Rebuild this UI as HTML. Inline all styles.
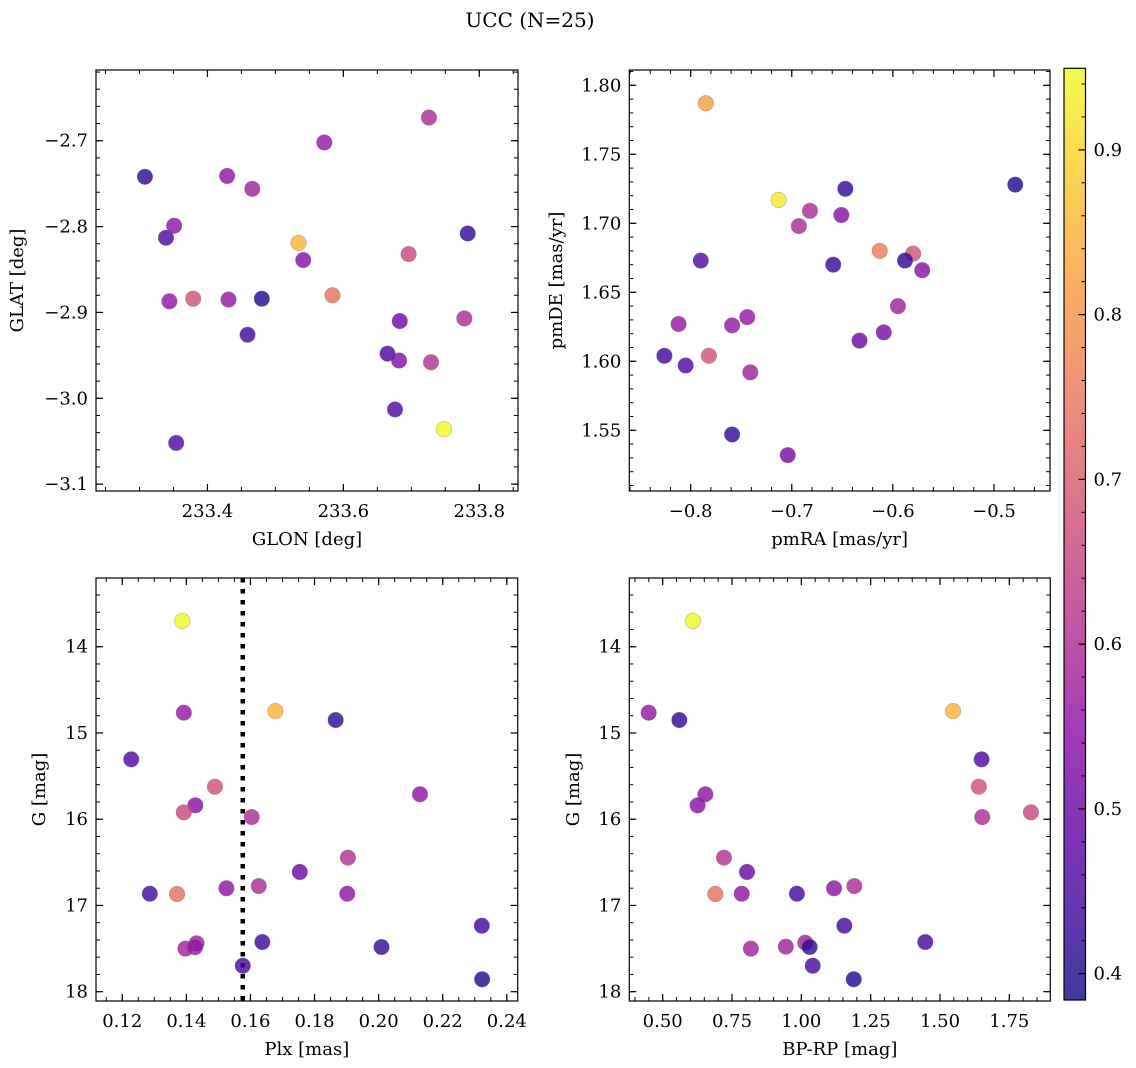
<!DOCTYPE html>
<html><head><meta charset="utf-8">
<style>
html,body{margin:0;padding:0;background:#fff;}
svg{display:block;font-family:"DejaVu Serif","Liberation Serif",serif;}
</style></head>
<body>
<svg id="fig" width="1136" height="1068" viewBox="0 0 1136 1068" xmlns="http://www.w3.org/2000/svg">
<text x="530" y="27" font-size="20" text-anchor="middle">UCC (N=25)</text>
</svg>
<script>
// ---- Panel 1: GLON vs GLAT ----
const glonVals = [233.308,233.339,233.351,233.344,233.379,233.431,233.429,233.466,233.480,233.459,233.354,233.534,233.541,233.572,233.584,233.696,233.726,233.783,233.778,233.683,233.665,233.682,233.729,233.676,233.748];
const glatVals = [-2.742,-2.813,-2.799,-2.887,-2.884,-2.885,-2.741,-2.756,-2.884,-2.926,-3.052,-2.819,-2.839,-2.702,-2.880,-2.832,-2.673,-2.808,-2.907,-2.910,-2.948,-2.956,-2.958,-3.013,-3.036];
const probP1 = [0.42,0.45,0.55,0.55,0.68,0.56,0.55,0.58,0.40,0.44,0.46,0.85,0.54,0.56,0.74,0.66,0.60,0.42,0.60,0.50,0.45,0.53,0.61,0.46,0.95];
// ---- Panel 2: pmRA vs pmDE ----
const pmraVals = [-0.785,-0.713,-0.647,-0.479,-0.682,-0.651,-0.693,-0.613,-0.580,-0.588,-0.571,-0.790,-0.659,-0.595,-0.812,-0.759,-0.744,-0.609,-0.633,-0.826,-0.782,-0.805,-0.741,-0.759,-0.704];
const pmdeVals = [1.787,1.717,1.725,1.728,1.709,1.706,1.698,1.680,1.678,1.673,1.666,1.673,1.670,1.640,1.627,1.626,1.632,1.621,1.615,1.604,1.604,1.597,1.592,1.547,1.532];
const probP2 = [0.82,0.93,0.42,0.40,0.60,0.54,0.60,0.76,0.68,0.42,0.54,0.46,0.43,0.58,0.56,0.56,0.56,0.52,0.50,0.44,0.68,0.46,0.58,0.42,0.52];
// ---- Panel 3: Plx vs G ----
const plxVals = [0.1387,0.1392,0.1678,0.1866,0.1228,0.1489,0.2129,0.1428,0.1392,0.1604,0.1904,0.1754,0.1525,0.1626,0.1286,0.1371,0.1902,0.2322,0.1637,0.1432,0.1427,0.1397,0.2009,0.1576,0.2323];
const gmagP3 = [13.702,14.765,14.746,14.850,15.306,15.623,15.711,15.839,15.920,15.975,16.446,16.612,16.801,16.775,16.864,16.867,16.864,17.235,17.424,17.439,17.485,17.501,17.482,17.699,17.856];
const probP3 = [0.95,0.56,0.85,0.42,0.46,0.68,0.55,0.54,0.66,0.60,0.61,0.50,0.55,0.60,0.44,0.74,0.55,0.44,0.44,0.58,0.56,0.58,0.42,0.45,0.40];
const plxLine = [0.1576];
// ---- Panel 4: BP-RP vs G ----
const bprpVals = [0.609,0.4495,0.560,1.547,1.650,1.640,1.828,1.6525,0.654,0.626,0.721,0.804,0.690,0.785,0.984,1.118,1.191,1.155,1.447,0.818,0.944,1.014,1.030,1.041,1.189];
const gmagP4 = [13.702,14.765,14.850,14.746,15.306,15.623,15.920,15.975,15.711,15.839,16.446,16.612,16.867,16.864,16.864,16.801,16.775,17.235,17.424,17.501,17.478,17.432,17.482,17.699,17.856];
const probP4 = [0.95,0.56,0.42,0.85,0.46,0.68,0.66,0.60,0.55,0.54,0.61,0.50,0.74,0.55,0.44,0.55,0.60,0.44,0.44,0.58,0.58,0.58,0.42,0.45,0.40];
// ---- tick labels ----
const p1XTicks = [233.4,233.6,233.8];
const p1XTickLabels = ["233.4","233.6","233.8"];
const p1YTicks = [-2.7,-2.8,-2.9,-3.0,-3.1];
const p1YTickLabels = ["\u22122.7","\u22122.8","\u22122.9","\u22123.0","\u22123.1"];
const p2XTicks = [-0.8,-0.7,-0.6,-0.5];
const p2XTickLabels = ["\u22120.8","\u22120.7","\u22120.6","\u22120.5"];
const p2YTicks = [1.55,1.60,1.65,1.70,1.75,1.80];
const p2YTickLabels = ["1.55","1.60","1.65","1.70","1.75","1.80"];
const p3XTicks = [0.12,0.14,0.16,0.18,0.20,0.22,0.24];
const p3XTickLabels = ["0.12","0.14","0.16","0.18","0.20","0.22","0.24"];
const gTicks = [14,15,16,17,18];
const gTickLabels = ["14","15","16","17","18"];
const p4XTicks = [0.50,0.75,1.00,1.25,1.50,1.75];
const p4XTickLabels = ["0.50","0.75","1.00","1.25","1.50","1.75"];
const cbTicks = [0.4,0.5,0.6,0.7,0.8,0.9];
const cbTickLabels = ["0.4","0.5","0.6","0.7","0.8","0.9"];

const NS = "http://www.w3.org/2000/svg";
const svg = document.getElementById('fig');
const VMIN = 0.384, VMAX = 0.9495;
const FS = 18;
const plasma = [[13,8,135],[65,4,157],[106,0,168],[143,13,164],[177,42,144],[204,71,120],[225,100,98],[242,132,75],[252,166,54],[252,206,37],[240,249,33]];
function cmap(v){
  let t=(v-VMIN)/(VMAX-VMIN); t=Math.max(0,Math.min(1,t));
  const f=t*10, i=Math.min(9,Math.floor(f)), r=f-i;
  const a=plasma[i], b=plasma[i+1];
  return 'rgb('+a.map((c,k)=>Math.round(c+(b[k]-c)*r)).join(',')+')';
}
function mk(tag, attrs, parent){
  const e=document.createElementNS(NS,tag);
  for(const k in attrs) e.setAttribute(k,attrs[k]);
  (parent||svg).appendChild(e); return e;
}
function scale(d0,d1,r0,r1){return v=>r0+(v-d0)/(d1-d0)*(r1-r0);}

function panel(cfg){
  const g=mk('g',{});
  
  
  const sx=scale(cfg.xd[0],cfg.xd[1],cfg.L,cfg.R);
  const sy=scale(cfg.yd[0],cfg.yd[1],cfg.B,cfg.T);
  if(cfg.vline){
    const vl=mk('line',{x1:sx(cfg.vline[0]),x2:sx(cfg.vline[0]),y1:cfg.T,y2:cfg.B,stroke:'#000','stroke-width':4.5,'stroke-dasharray':'4.5 6.5'},g);
    
    
  }
  cfg.xs.forEach((xv,i)=>{
    const c=mk('circle',{cx:sx(xv),cy:sy(cfg.ys[i]),r:7.8,fill:cmap(cfg.ps[i]),'fill-opacity':0.8,stroke:'#777','stroke-opacity':0.5,'stroke-width':0.6},g);
    
    
  });
  const fr=mk('rect',{x:cfg.L,y:cfg.T,width:cfg.R-cfg.L,height:cfg.B-cfg.T,fill:'none',stroke:'#000','stroke-width':1.2},g);
  
  
  const eps=1e-9;
  const xlo=Math.min(...cfg.xd), xhi=Math.max(...cfg.xd);
  for(let v=Math.ceil(xlo/cfg.xminor-eps)*cfg.xminor; v<=xhi+eps; v+=cfg.xminor){
    const X=sx(v);
    mk('line',{x1:X,x2:X,y1:cfg.B,y2:cfg.B-4,stroke:'#000','stroke-width':1},g);
    mk('line',{x1:X,x2:X,y1:cfg.T,y2:cfg.T+4,stroke:'#000','stroke-width':1},g);
  }
  const ylo=Math.min(...cfg.yd), yhi=Math.max(...cfg.yd);
  for(let v=Math.ceil(ylo/cfg.yminor-eps)*cfg.yminor; v<=yhi+eps; v+=cfg.yminor){
    const Y=sy(v);
    mk('line',{x1:cfg.L,x2:cfg.L+4,y1:Y,y2:Y,stroke:'#000','stroke-width':1},g);
    mk('line',{x1:cfg.R,x2:cfg.R-4,y1:Y,y2:Y,stroke:'#000','stroke-width':1},g);
  }
  cfg.xt.forEach((v,i)=>{
    const X=sx(v);
    mk('line',{x1:X,x2:X,y1:cfg.B,y2:cfg.B-7,stroke:'#000','stroke-width':1.2},g);
    mk('line',{x1:X,x2:X,y1:cfg.T,y2:cfg.T+7,stroke:'#000','stroke-width':1.2},g);
    const t=mk('text',{x:X,y:cfg.B+26,'font-size':FS,'text-anchor':'middle'},g);
    t.textContent=cfg.xtl[i];
    
    
  });
  cfg.yt.forEach((v,i)=>{
    const Y=sy(v);
    mk('line',{x1:cfg.L,x2:cfg.L+7,y1:Y,y2:Y,stroke:'#000','stroke-width':1.2},g);
    mk('line',{x1:cfg.R,x2:cfg.R-7,y1:Y,y2:Y,stroke:'#000','stroke-width':1.2},g);
    const t=mk('text',{x:cfg.L-8,y:Y+6,'font-size':FS,'text-anchor':'end'},g);
    t.textContent=cfg.ytl[i];
    
    
  });
  const xl=mk('text',{x:(cfg.L+cfg.R)/2,y:cfg.B+54,'font-size':FS,'text-anchor':'middle'},g);
  xl.textContent=cfg.xlabel;
  
  
  const yx=cfg.ylx, yy=(cfg.T+cfg.B)/2;
  const yl=mk('text',{x:yx,y:yy,'font-size':FS,'text-anchor':'middle',transform:'rotate(-90 '+yx+' '+yy+')'},g);
  yl.textContent=cfg.ylabel;
  
  
}

panel({name:'glon-glat-panel',L:96,R:518,T:70,B:491,xd:[233.236,233.857],yd:[-3.108,-2.6176],
  xs:glonVals,ys:glatVals,ps:probP1,xt:p1XTicks,xtl:p1XTickLabels,yt:p1YTicks,ytl:p1YTickLabels,
  xminor:0.05,yminor:0.02,xlabel:'GLON [deg]',ylabel:'GLAT [deg]',ylx:23});
panel({name:'pmra-pmde-panel',L:629.3,R:1050,T:70,B:491,xd:[-0.8607,-0.4446],yd:[1.506,1.8111],
  xs:pmraVals,ys:pmdeVals,ps:probP2,xt:p2XTicks,xtl:p2XTickLabels,yt:p2YTicks,ytl:p2YTickLabels,
  xminor:0.02,yminor:0.01,xlabel:'pmRA [mas/yr]',ylabel:'pmDE [mas/yr]',ylx:562});
panel({name:'plx-g-panel',L:96,R:517.7,T:578,B:1001,xd:[0.1118,0.2434],yd:[18.108,13.203],
  xs:plxVals,ys:gmagP3,ps:probP3,xt:p3XTicks,xtl:p3XTickLabels,yt:gTicks,ytl:gTickLabels,
  xminor:0.005,yminor:0.2,xlabel:'Plx [mas]',ylabel:'G [mag]',ylx:45,vline:plxLine});
panel({name:'bprp-g-panel',L:629.3,R:1050.3,T:578,B:1001,xd:[0.3796,1.8978],yd:[18.108,13.203],
  xs:bprpVals,ys:gmagP4,ps:probP4,xt:p4XTicks,xtl:p4XTickLabels,yt:gTicks,ytl:gTickLabels,
  xminor:0.05,yminor:0.2,xlabel:'BP-RP [mag]',ylabel:'G [mag]',ylx:579});

const cb=mk('g',{});


const CL=1064,CR=1085.5,CT=68.3,CB=1000;
const csy=scale(VMIN,VMAX,CB,CT);
const defs=mk('defs',{},cb);
const lg=mk('linearGradient',{id:'cbg',x1:0,y1:1,x2:0,y2:0},defs);
for(let i=0;i<=20;i++){
  const v=VMIN+(VMAX-VMIN)*i/20;
  mk('stop',{offset:(i/20),'stop-color':cmap(v),'stop-opacity':0.8},lg);
}
mk('rect',{x:CL,y:CT,width:CR-CL,height:CB-CT,fill:'url(#cbg)',stroke:'#000','stroke-width':1.2},cb);
for(let v=0.40; v<=0.95; v+=0.02){
  const Y=csy(v); if(Y<CT||Y>CB) continue;
  mk('line',{x1:CR,x2:CR-4,y1:Y,y2:Y,stroke:'#000','stroke-width':1},cb);
}
cbTicks.forEach((v,i)=>{
  const Y=csy(v);
  mk('line',{x1:CR,x2:CR-7,y1:Y,y2:Y,stroke:'#000','stroke-width':1.2},cb);
  const t=mk('text',{x:CR+8,y:Y+6,'font-size':FS},cb);
  t.textContent=cbTickLabels[i];
  
  
});
</script>
</body></html>
